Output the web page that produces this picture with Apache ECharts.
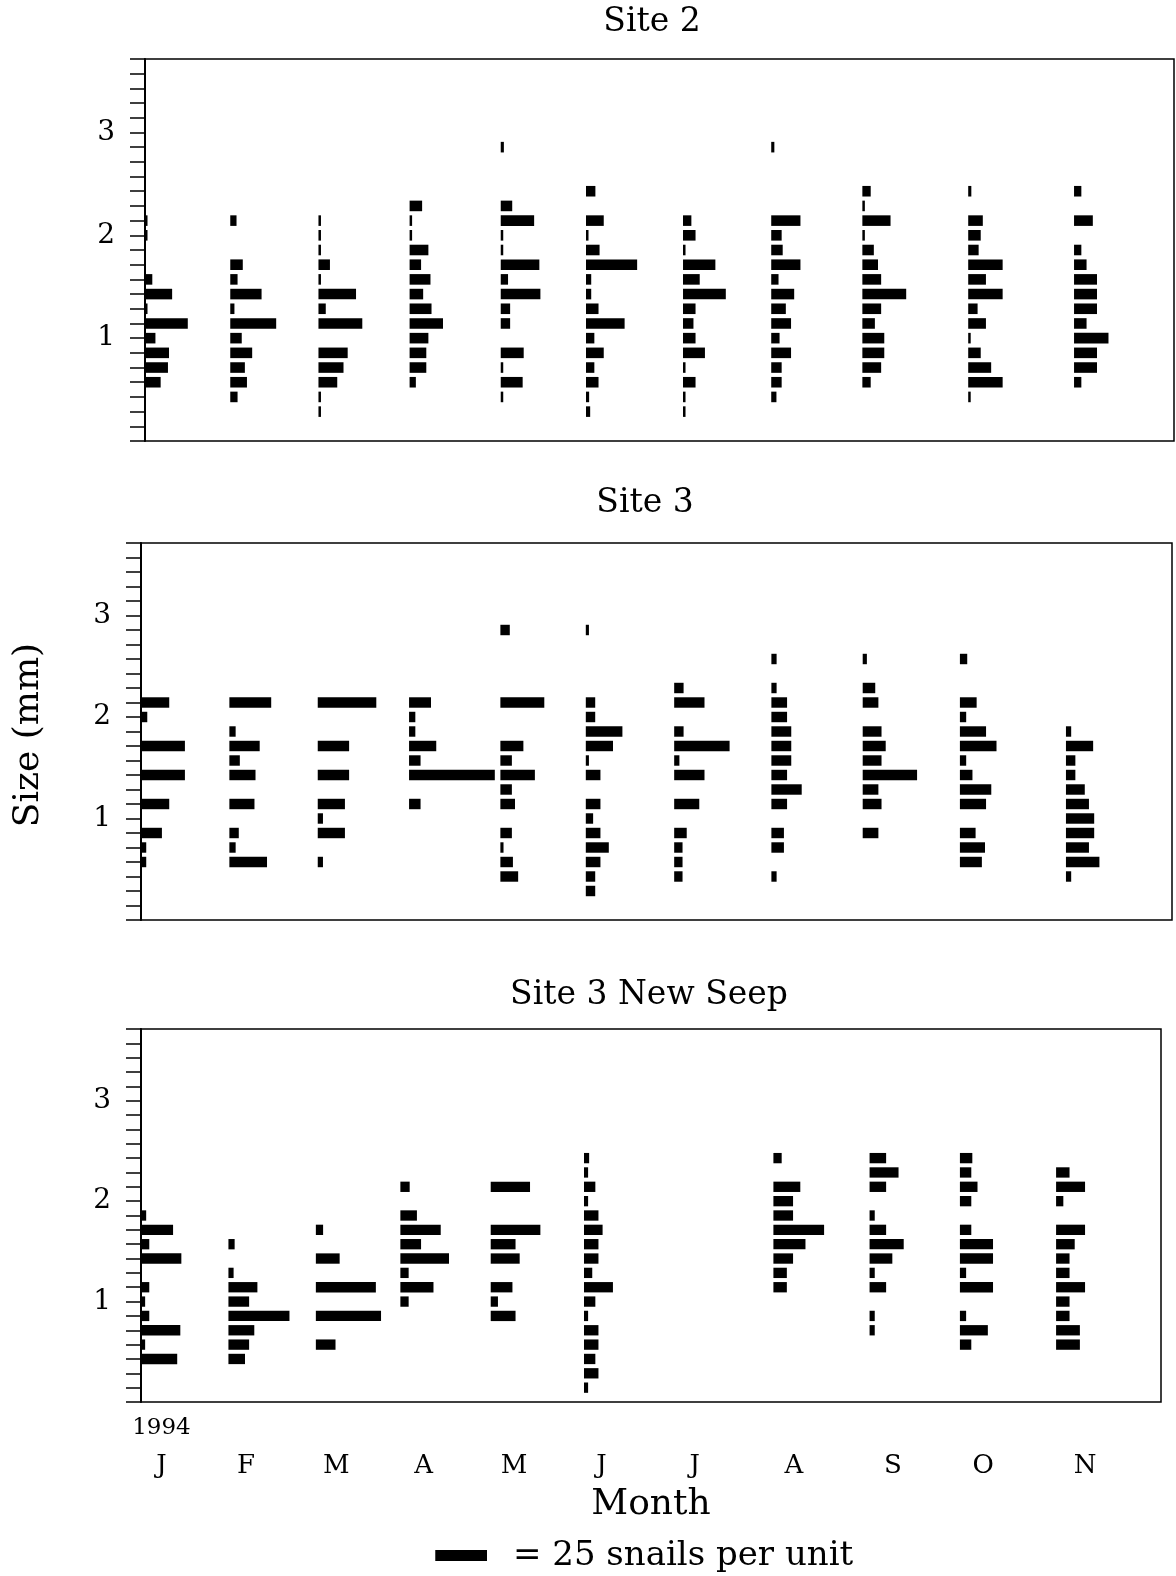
<!DOCTYPE html>
<html>
<head>
<meta charset="utf-8">
<script src="https://cdn.jsdelivr.net/npm/echarts@6/dist/echarts.min.js"></script>
<style>
  html, body { margin: 0; padding: 0; background: #fff; }
  #chart { width: 1176px; height: 1576px; }
</style>
</head>
<body>
<div id="chart"></div>
<script>
// Size-frequency histograms of snails, 1994, at three seep sites.
// Each horizontal bar: one 1/7 mm size class in one monthly sample,
// length proportional to the number of snails per sampling unit.

const MONTHS = ['J', 'F', 'M', 'A', 'M', 'J', 'J', 'A', 'S', 'O', 'N'];
const MONTH_LABEL_DAYS = [7, 36, 67, 97, 128, 158, 190, 224, 258, 289, 324];
const YEAR_LABEL = '1994';
const SIZE_TICKS = [1, 2, 3];          // labelled sizes (mm)
const CLASS_MM = 1 / 7;                // width of one size class (mm)
const N_CLASSES = 26;                  // axis spans 26 classes
const SNAILS_PER_LEGEND_BAR = 25;

// Sampling day (days after the first sample) for each month
const site2Days   = [0, 29, 59, 90, 121, 150, 183, 213, 244, 280, 316];
const site3Days   = [0, 30, 60, 91, 122, 151, 181, 214, 245, 278, 314];
const newSeepDays = [0, 30, 60, 89, 120, 152, null, 217, 250, 281, 314];

// Snails per unit in each size class (index = class number, size = index / 7 mm)
const site2Counts = [
  [0,0,0,0,7.5,11,11.5,5,20.5,1.2,13,3.5,0,0,1.2,1.2],
  [0,0,0,3.5,8,7,10.5,5.5,22,2,15,3.5,6,0,0,3],
  [0,0,1.2,1.2,9,12,14,0,21,3.5,18,1.2,5.5,1.2,1.2,1.2],
  [0,0,0,0,3,8,8,9,16,10.5,6.5,10,5.5,9,1.2,1.2,6],
  [0,0,0,1.2,10.5,1.2,11,0,4.5,4.5,19,3.5,18.5,1.2,1.2,16,5.5,0,0,0,1.5],
  [0,0,2,1.5,6,4,8.5,4,18.5,6,2.5,2.5,24.5,6.5,1.2,8.5,0,4.5],
  [0,0,1.2,1.2,6,1.2,10.5,6,5,6,20.5,8,15.5,1.2,6,4],
  [0,0,0,2.5,5,5,9.5,4,9.5,7,11,3.5,14,5.5,5,14,0,0,0,0,1.5],
  [0,0,0,0,4,9,10.5,10.5,6,9,21,9,7.5,5.5,1.2,13.5,1.2,4],
  [0,0,0,1.2,16.5,11,6,1.2,8.5,4.5,16.5,8.5,16.5,5,6,7,0,1.5],
  [0,0,0,0,3.5,11,11,16.5,6,11,11,11,6,3.5,0,9,0,3.5]
];
const site3Counts = [
  [0,0,0,0,2.5,2.5,10,0,13.5,0,21,0,21,0,3,13.5],
  [0,0,0,0,18,3,4.5,0,12,0,12.5,5,14.5,3,0,20],
  [0,0,0,0,2.5,0,13,2.5,13,0,15,0,15,0,0,28],
  [0,0,0,0,0,0,0,0,5.5,0,41,5.5,13,3,3,10.5],
  [0,0,0,8.5,6,1.5,5.5,0,7,5.5,16.5,5.5,11,0,0,21,0,0,0,0,4.5],
  [0,0,4.5,4.5,7,11,7,3.5,7,0,7,1.5,13,17.5,4.5,4.5,0,0,0,0,1.5],
  [0,0,0,4,4,4,6,0,12,0,14.5,2.5,26.5,4.5,0,14.5,4.5],
  [0,0,0,2.5,0,6,6,0,7.5,14.5,7.5,9.5,9.5,9.5,7.5,7.5,2.5,0,2.5],
  [0,0,0,0,0,0,7.5,0,9,7.5,26,9,11,9,0,7.5,6,0,2],
  [0,0,0,0,10.5,12,7.5,0,12.5,15,6,3,17.5,12.5,3,8,0,0,3.5],
  [0,0,0,2.5,16,11,13.5,13.5,11,9,4.5,4.5,13,2.5]
];
const newSeepCounts = [
  [0,0,0,17.5,2,19,4,2,4,0,19.5,4,15.5,2.5],
  [0,0,0,8,10,12.5,29.5,10,14,2.5,0,3],
  [0,0,0,0,9.5,0,31.5,0,29,0,11.5,0,3.5],
  [0,0,0,0,0,0,0,4,16,4,23.5,10,19.5,8,0,4.5],
  [0,0,0,0,0,0,12,3.5,10.5,0,14,12,24,0,0,19],
  [0,2,7,5.5,7,7,2,5.5,14,4,7,7,9,7,2,5.5,2,2.5],
  [],
  [0,0,0,0,0,0,0,0,6.5,6.5,9.5,15.5,24.5,9.5,9.5,13,0,4],
  [0,0,0,0,0,2.5,2.5,0,8,2.5,11,16.5,8,2.5,0,8,14,8],
  [0,0,0,0,5.5,13.5,3,0,16,3,16,16,5.5,0,5.5,8.5,5.5,6],
  [0,0,0,0,11.5,11.5,6.5,6.5,14,6.5,6.5,9,14,0,3.5,14,6.5]
];

const PANEL_TITLES = ['Site 2', 'Site 3', 'Site 3 New Seep'];

// Horizontal scale: days on the time axis taken by one snail of bar length
const DAYS_MAX = 350;
const DAYS_PER_SNAIL = 0.71;

const FONT = '"DejaVu Serif", serif';

const panels = [
  { title: PANEL_TITLES[0], days: site2Days,   counts: site2Counts,   grid: { left: 145, top: 59,   width: 1029, height: 382 }, titleX: 652, titleY: 22 },
  { title: PANEL_TITLES[1], days: site3Days,   counts: site3Counts,   grid: { left: 141, top: 543,  width: 1031, height: 377 }, titleX: 645, titleY: 503 },
  { title: PANEL_TITLES[2], days: newSeepDays, counts: newSeepCounts, grid: { left: 141, top: 1029, width: 1020, height: 373 }, titleX: 649, titleY: 995 }
];

function histogramData(days, counts) {
  const out = [];
  counts.forEach((col, m) => {
    if (days[m] == null) return;
    col.forEach((n, k) => { if (n > 0) out.push([days[m], k * CLASS_MM, n]); });
  });
  return out;
}

function renderBar(params, api) {
  const day = api.value(0), size = api.value(1), n = api.value(2);
  const start = api.coord([day, size]);
  const end = api.coord([day + n * DAYS_PER_SNAIL, size]);
  const h = api.size([0, CLASS_MM])[1] * 0.72;
  return {
    type: 'rect',
    shape: { x: start[0], y: start[1] - h / 2, width: end[0] - start[0], height: h },
    style: { fill: '#000' }
  };
}

function sizeLabel(v) {
  const t = SIZE_TICKS.find(s => Math.abs(s - v) < 1e-6);
  return t === undefined ? '' : String(t);
}

const grids = panels.map(p => Object.assign({
  show: true, borderColor: '#000', borderWidth: 1.5, backgroundColor: 'transparent'
}, p.grid));

const yAxes = panels.map((p, i) => ({
  type: 'value', gridIndex: i,
  min: 0, max: N_CLASSES * CLASS_MM, interval: CLASS_MM,
  axisLine: { show: true, lineStyle: { color: '#000', width: 2 } },
  axisTick: { show: true, inside: false, length: 15, lineStyle: { color: '#000', width: 1.5 } },
  axisLabel: { show: true, margin: 30, color: '#000', fontFamily: FONT, fontSize: 28, formatter: sizeLabel },
  splitLine: { show: false }
}));

const xAxes = panels.map((p, i) => ({
  type: 'value', gridIndex: i, min: 0, max: DAYS_MAX,
  axisLine: { show: false }, axisTick: { show: false },
  axisLabel: { show: false }, splitLine: { show: false }
}));
// month letters and axis title under the bottom panel
Object.assign(xAxes[2], {
  axisLabel: {
    show: true, customValues: MONTH_LABEL_DAYS, margin: 51,
    color: '#000', fontFamily: FONT, fontSize: 26,
    formatter: v => MONTHS[MONTH_LABEL_DAYS.indexOf(v)]
  },
  name: 'Month', nameLocation: 'middle', nameGap: 85,
  nameTextStyle: { color: '#000', fontFamily: FONT, fontSize: 36 }
});
// year marker above the first month
xAxes.push({
  type: 'value', gridIndex: 2, position: 'bottom', min: 0, max: DAYS_MAX,
  axisLine: { show: false }, axisTick: { show: false }, splitLine: { show: false },
  axisLabel: {
    show: true, customValues: [MONTH_LABEL_DAYS[0]], margin: 15,
    color: '#000', fontFamily: FONT, fontSize: 23, formatter: () => YEAR_LABEL
  }
});

const series = panels.map((p, i) => ({
  type: 'custom', xAxisIndex: i, yAxisIndex: i,
  renderItem: renderBar,
  encode: { x: 0, y: 1 },
  data: histogramData(p.days, p.counts),
  silent: true
}));

const textEl = (id, x, y, text, size, align, rotation) => ({
  type: 'text', id, x, y, rotation: rotation || 0,
  style: {
    text, fill: '#000', font: size + 'px ' + FONT,
    align, verticalAlign: 'middle', textAlign: align, textVerticalAlign: 'middle'
  }
});

const graphic = panels.map((p, i) => textEl('title' + i, p.titleX, p.titleY, p.title, 33, 'center'));
graphic.push(textEl('ylabel', 29, 735, 'Size (mm)', 36, 'center', Math.PI / 2));
graphic.push(textEl('legendText', 513, 1556, '= ' + SNAILS_PER_LEGEND_BAR + ' snails per unit', 34, 'left'));

const chart = echarts.init(document.getElementById('chart'), null, { renderer: 'canvas' });
chart.setOption({
  animation: false,
  backgroundColor: '#fff',
  grid: grids,
  xAxis: xAxes,
  yAxis: yAxes,
  series,
  graphic
});

// legend key bar: the length of SNAILS_PER_LEGEND_BAR snails on the bottom panel's scale
const x0 = chart.convertToPixel({ xAxisIndex: 2 }, 0);
const x1 = chart.convertToPixel({ xAxisIndex: 2 }, SNAILS_PER_LEGEND_BAR * DAYS_PER_SNAIL);
chart.setOption({
  graphic: [{
    type: 'rect', id: 'legendBar',
    shape: { x: 487 - (x1 - x0), y: 1550, width: x1 - x0, height: 11 },
    style: { fill: '#000' }
  }]
});
</script>
</body>
</html>
